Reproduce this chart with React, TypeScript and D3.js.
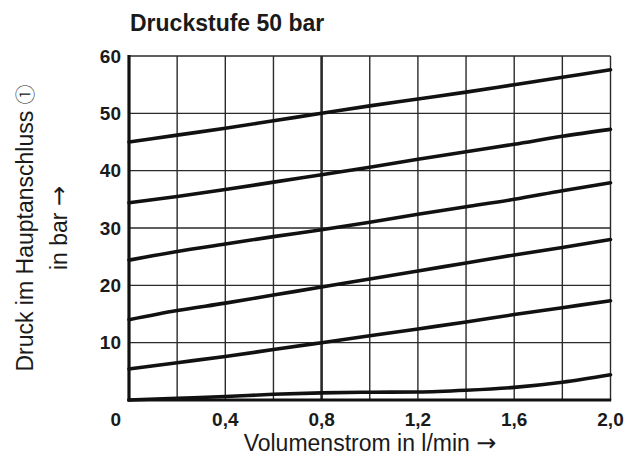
import * as d3 from 'd3'

// Volumenstrom (l/min) sampled every 0.2
const flow = [0, 0.2, 0.4, 0.6, 0.8, 1.0, 1.2, 1.4, 1.6, 1.8, 2.0]

// pressure curves in bar
const curve45 = [45.0, 46.2, 47.4, 48.7, 50.0, 51.3, 52.5, 53.7, 55.0, 56.3, 57.6]
const curve35 = [34.4, 35.5, 36.7, 38.0, 39.3, 40.6, 42.0, 43.3, 44.6, 46.0, 47.2]
const curve25 = [24.4, 25.9, 27.2, 28.5, 29.7, 31.0, 32.4, 33.7, 35.0, 36.5, 37.9]
const curve15 = [14.0, 15.6, 16.9, 18.3, 19.7, 21.1, 22.5, 23.9, 25.3, 26.6, 28.0]
const curve5 = [5.4, 6.5, 7.6, 8.8, 10.0, 11.2, 12.4, 13.6, 14.9, 16.1, 17.3]
const curve0 = [0, 0.3, 0.6, 1.0, 1.25, 1.35, 1.4, 1.7, 2.2, 3.1, 4.4]

const curves = [curve45, curve35, curve25, curve15, curve5, curve0]

const xTicks = [0.4, 0.8, 1.2, 1.6, 2.0]
const yTicks = [10, 20, 30, 40, 50, 60]
const xGrid = [0.2, 0.4, 0.6, 0.8, 1.0, 1.2, 1.4, 1.6, 1.8, 2.0]

const W = 634
const H = 461
const left = 129
const right = 610.5
const top = 56
const bottom = 400

const font = '"Liberation Sans", Arial, sans-serif'
const symFont = '"DejaVu Sans", sans-serif'
const circFont = '"Noto Sans CJK JP", "Noto Sans CJK SC", sans-serif'
const fmt = (v: number) => v.toFixed(1).replace('.', ',')

export default function App() {
  const x = d3.scaleLinear().domain([0, 2]).range([left, right])
  const y = d3.scaleLinear().domain([0, 60]).range([bottom, top])

  const line = d3
    .line<number>()
    .x((_, i) => x(flow[i]))
    .y((d) => y(d))
    .curve(d3.curveMonotoneX)

  return (
    <svg width={W} height={H} style={{ position: 'absolute', left: 0, top: 0, background: '#fff' }}>
      {/* grid */}
      {xGrid.map((v) => (
        <line
          key={'gx' + v}
          x1={x(v)}
          x2={x(v)}
          y1={y(60)}
          y2={y(0)}
          stroke="#2a2a2a"
          strokeWidth={Math.abs(v - 0.8) < 1e-6 ? 2.6 : 1.4}
        />
      ))}
      {yTicks.map((v) => (
        <line key={'gy' + v} x1={x(0)} x2={x(2)} y1={y(v)} y2={y(v)} stroke="#2a2a2a" strokeWidth={1.4} />
      ))}

      {/* curves */}
      {curves.map((c, i) => (
        <path key={i} d={line(c) || ''} fill="none" stroke="#111" strokeWidth={3.6} strokeLinecap="round" />
      ))}

      {/* axes */}
      <line x1={x(0)} x2={x(0)} y1={y(60) - 1} y2={y(0) + 1.5} stroke="#111" strokeWidth={3.2} />
      <line x1={x(0) - 1.5} x2={x(2) + 0.7} y1={y(0)} y2={y(0)} stroke="#111" strokeWidth={3.2} />

      {/* tick labels */}
      <g fontFamily={font} fontWeight="bold" fontSize={19} fill="#1a1a1a">
        {yTicks.map((v) => (
          <text key={'ty' + v} x={121} y={y(v)} dy="0.35em" textAnchor="end">
            {v}
          </text>
        ))}
        <text x={121} y={426} textAnchor="end">0</text>
        {xTicks.map((v) => (
          <text key={'tx' + v} x={x(v)} y={426} textAnchor="middle">
            {fmt(v)}
          </text>
        ))}
      </g>

      {/* title */}
      <text x={130} y={31} fontFamily={font} fontWeight="bold" fontSize={23} fill="#1a1a1a">
        Druckstufe 50 bar
      </text>

      {/* axis titles */}
      <text x={370} y={451} textAnchor="middle" fontFamily={font} fontSize={23} fill="#1a1a1a">
        Volumenstrom in l/min{' '}
        <tspan fontFamily={symFont} fontSize={24}>→</tspan>
      </text>
      <g transform={`translate(33, ${(top + bottom) / 2}) rotate(-90)`} fontFamily={font} fontSize={23} fill="#1a1a1a">
        <text x={0} y={0} textAnchor="middle">
          Druck im Hauptanschluss{' '}
          <tspan fontFamily={circFont} fontSize={20} fontWeight={300}>①</tspan>
        </text>
        <text x={0} y={34} textAnchor="middle">
          in bar <tspan fontFamily={symFont} fontSize={24}>→</tspan>
        </text>
      </g>
    </svg>
  )
}
